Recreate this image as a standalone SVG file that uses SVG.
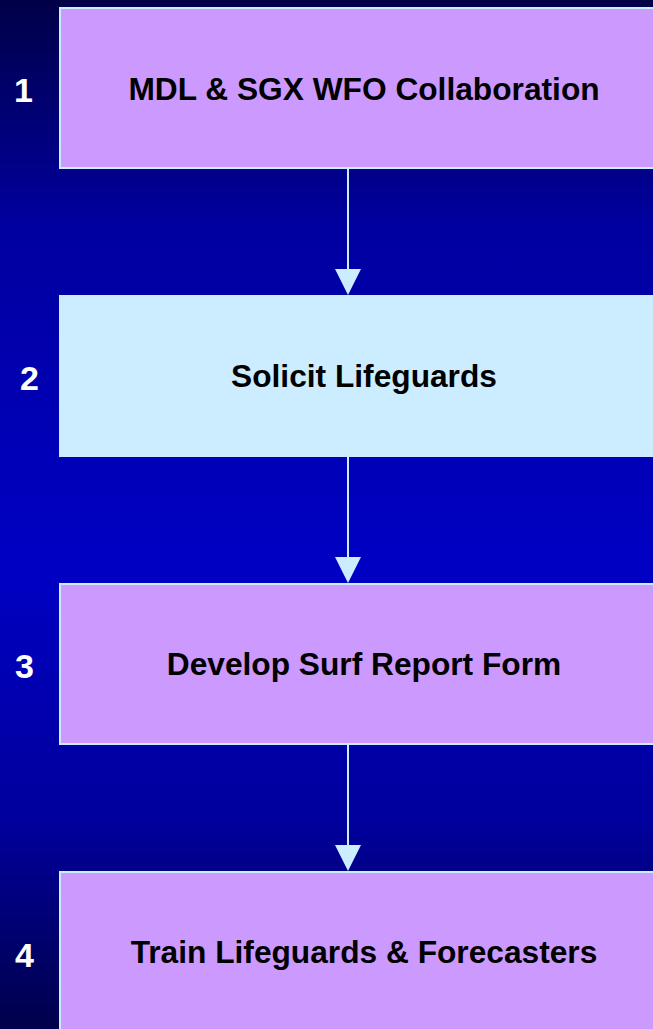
<svg xmlns="http://www.w3.org/2000/svg" width="653" height="1029" viewBox="0 0 653 1029">
<defs>
<linearGradient id="bg" x1="0" y1="0" x2="0" y2="1">
<stop offset="0" stop-color="#000048"/>
<stop offset="0.22" stop-color="#0000a0"/>
<stop offset="0.55" stop-color="#0000c4"/>
<stop offset="0.8" stop-color="#00009c"/>
<stop offset="1" stop-color="#00004a"/>
</linearGradient>
<style>
.box{fill:#cc99ff;stroke:#ccecff;stroke-width:2}
.box2{fill:#ccecff}
.lbl{font-family:"Liberation Sans",Arial,sans-serif;font-weight:bold;font-size:31.7px;fill:#000;text-anchor:middle}
.num{font-family:"Liberation Sans",Arial,sans-serif;font-weight:bold;font-size:34px;fill:#fff}
.ln{stroke:#ccecff;stroke-width:2;fill:none}
.ah{fill:#ccecff}
</style>
</defs>
<rect width="653" height="1029" fill="url(#bg)"/>
<g id="connectors">
<line class="ln" x1="348" y1="168" x2="348" y2="272"/>
<polygon class="ah" points="335,269 361,269 348,295"/>
<line class="ln" x1="348" y1="457" x2="348" y2="560"/>
<polygon class="ah" points="335,557 361,557 348,583"/>
<line class="ln" x1="348" y1="744" x2="348" y2="848"/>
<polygon class="ah" points="335,845 361,845 348,871"/>
</g>
<g id="node1">
<rect class="box" x="60" y="8" width="610" height="160"/>
<text class="lbl" x="364" y="100">MDL &amp; SGX WFO Collaboration</text>
<text class="num" x="14" y="102">1</text>
</g>
<g id="node2">
<rect class="box2" x="59" y="295" width="611" height="162"/>
<text class="lbl" x="364" y="387">Solicit Lifeguards</text>
<text class="num" x="20" y="390">2</text>
</g>
<g id="node3">
<rect class="box" x="60" y="584" width="610" height="160"/>
<text class="lbl" x="364" y="675">Develop Surf Report Form</text>
<text class="num" x="15" y="678">3</text>
</g>
<g id="node4">
<rect class="box" x="60" y="872" width="610" height="170"/>
<text class="lbl" x="364" y="963">Train Lifeguards &amp; Forecasters</text>
<text class="num" x="15" y="967">4</text>
</g>
</svg>
